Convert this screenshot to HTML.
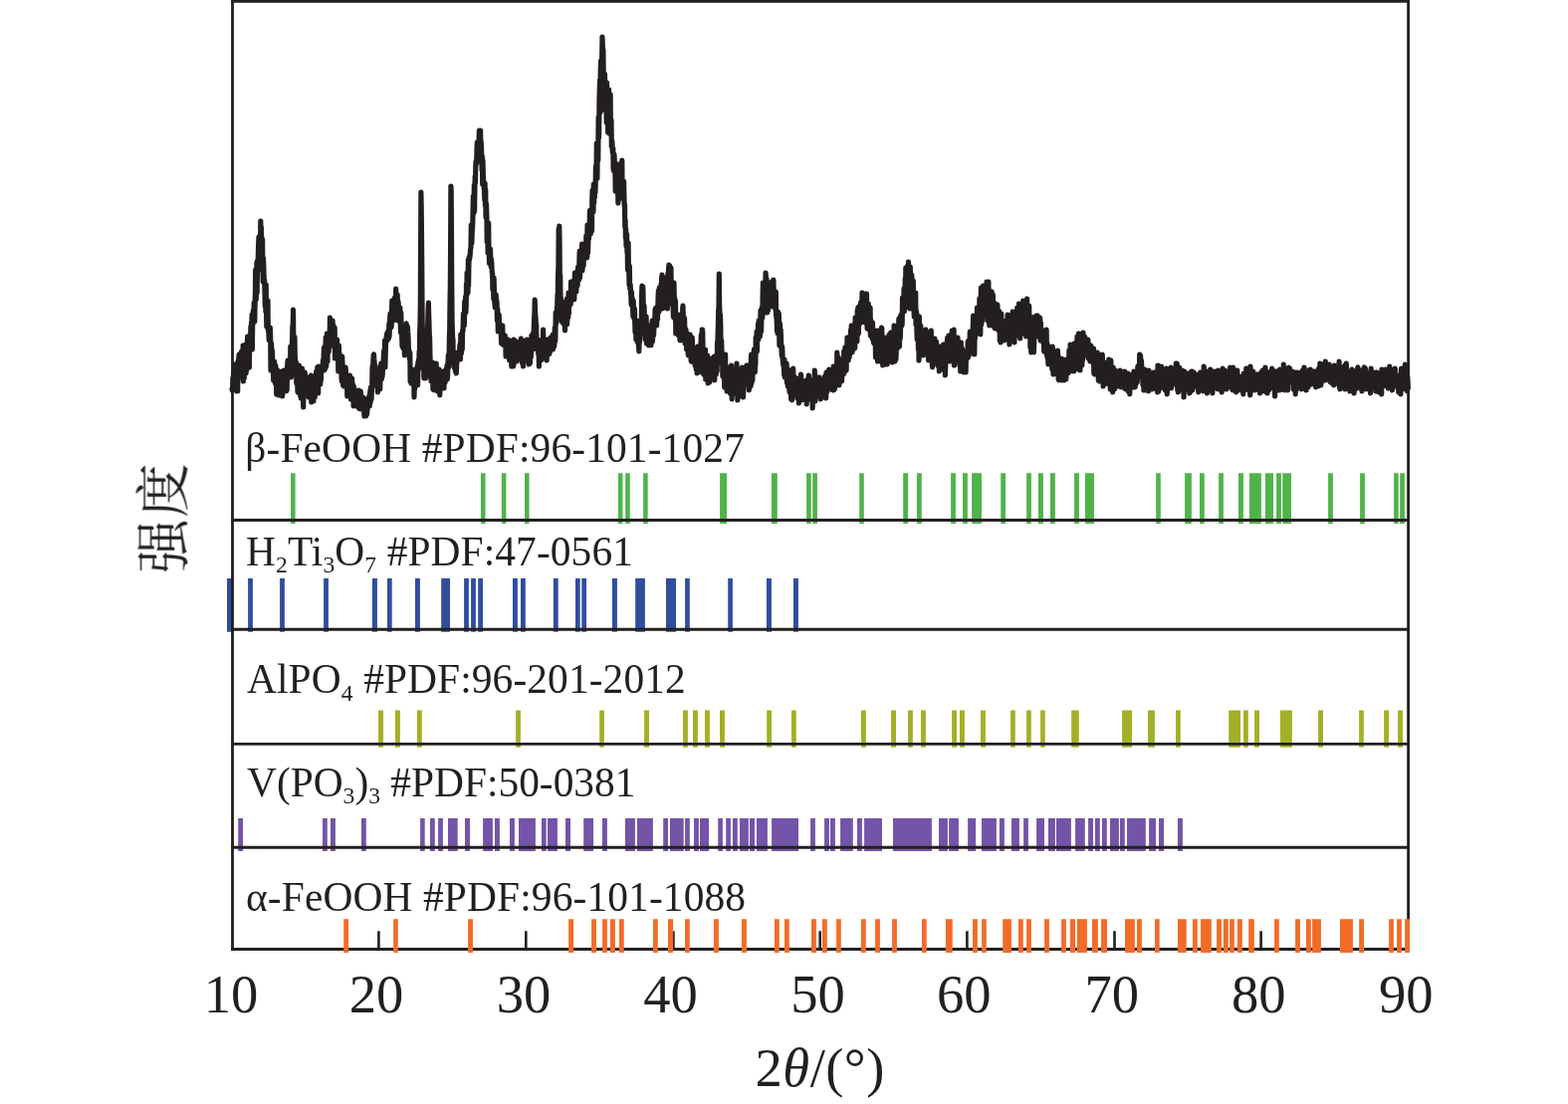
<!DOCTYPE html>
<html><head><meta charset="utf-8"><title>XRD</title>
<style>
html,body{margin:0;padding:0;background:#fff}
svg{display:block}
text{font-family:"Liberation Serif",serif;fill:#231f20}
.lab{font-size:41.4px}
.sb{font-size:23.6px}
.tk{font-size:54.6px}
.ax{font-size:54.6px}
</style></head><body>
<svg width="1575" height="1109" viewBox="0 0 1575 1109">
<rect width="1575" height="1109" fill="#fff"/>
<polyline fill="none" stroke="#231f20" stroke-width="5.2" stroke-linejoin="round" stroke-linecap="round" points="233.0,391 233.3,392 233.6,390 233.9,379 234.2,381 234.5,388 234.8,373 235.1,390 235.4,387 235.7,380 236.0,366 236.3,368 236.6,370 236.9,378 237.2,375 237.5,377 237.8,393 238.1,389 238.4,381 238.7,393 239.0,364 239.3,362 239.6,377 239.9,358 240.2,356 240.5,379 240.8,369 241.1,377 241.4,376 241.7,379 242.0,370 242.3,368 242.6,353 242.9,357 243.2,370 243.5,359 243.8,372 244.1,347 244.4,383 244.7,352 245.0,358 245.3,380 245.6,368 245.9,375 246.2,359 246.5,371 246.8,346 247.1,375 247.4,360 247.7,372 248.0,350 248.3,359 248.6,338 248.9,358 249.2,348 249.5,346 249.8,358 250.1,344 250.4,369 250.7,345 251.0,340 251.3,350 251.6,342 251.9,328 252.2,342 252.5,324 252.8,336 253.1,316 253.4,351 253.7,324 254.0,326 254.3,312 254.6,324 254.9,319 255.2,304 255.5,309 255.8,323 256.1,305 256.4,294 256.7,271 257.0,292 257.3,301 257.6,286 257.9,264 258.2,294 258.5,262 258.8,268 259.1,271 259.4,252 259.7,244 260.0,238 260.3,256 260.6,243 260.9,250 261.2,236 261.5,252 261.8,222 262.1,240 262.4,228 262.7,242 263.0,271 263.3,258 263.6,240 263.9,267 264.2,283 264.5,259 264.8,266 265.1,278 265.4,283 265.7,281 266.0,296 266.3,308 266.6,292 266.9,313 267.2,286 267.5,311 267.8,328 268.1,306 268.4,312 268.7,321 269.0,302 269.3,331 269.6,332 269.9,335 270.2,342 270.5,329 270.8,332 271.1,339 271.4,329 271.7,339 272.0,372 272.3,346 272.6,345 272.9,353 273.2,368 273.5,352 273.8,367 274.1,365 274.4,369 274.7,382 275.0,374 275.3,375 275.6,363 275.9,382 276.2,367 276.5,385 276.8,367 277.1,379 277.4,373 277.7,396 278.0,371 278.3,384 278.6,385 278.9,382 279.2,387 279.5,397 279.8,380 280.1,385 280.4,377 280.7,375 281.0,373 281.3,397 281.6,391 281.9,374 282.2,388 282.5,386 282.8,381 283.1,382 283.4,379 283.7,398 284.0,385 284.3,391 284.6,393 284.9,378 285.2,372 285.5,377 285.8,386 286.1,389 286.4,389 286.7,373 287.0,392 287.3,388 287.6,393 287.9,382 288.2,392 288.5,370 288.8,365 289.1,362 289.4,374 289.7,373 290.0,368 290.3,375 290.6,373 290.9,372 291.2,361 291.5,375 291.8,348 292.1,358 292.4,379 292.7,360 293.0,360 293.3,350 293.6,340 293.9,327 294.2,329 294.5,311 294.8,339 295.1,353 295.4,353 295.7,338 296.0,339 296.3,359 296.6,363 296.9,376 297.2,376 297.5,364 297.8,385 298.1,379 298.4,371 298.7,383 299.0,394 299.3,379 299.6,375 299.9,387 300.2,383 300.5,367 300.8,385 301.1,387 301.4,397 301.7,386 302.0,386 302.3,400 302.6,397 302.9,398 303.2,378 303.5,370 303.8,393 304.1,382 304.4,392 304.7,409 305.0,388 305.3,384 305.6,394 305.9,387 306.2,374 306.5,384 306.8,377 307.1,396 307.4,396 307.7,393 308.0,393 308.3,394 308.6,381 308.9,386 309.2,389 309.5,384 309.8,381 310.1,399 310.4,393 310.7,392 311.0,385 311.3,393 311.6,382 311.9,378 312.2,384 312.5,377 312.8,404 313.1,386 313.4,389 313.7,397 314.0,386 314.3,389 314.6,387 314.9,403 315.2,387 315.5,396 315.8,385 316.1,394 316.4,399 316.7,388 317.0,393 317.3,381 317.6,373 317.9,384 318.2,391 318.5,382 318.8,369 319.1,382 319.4,384 319.7,395 320.0,368 320.3,373 320.6,384 320.9,384 321.2,386 321.5,386 321.8,386 322.1,377 322.4,382 322.7,374 323.0,373 323.3,368 323.6,367 323.9,367 324.2,366 324.5,362 324.8,361 325.1,360 325.4,349 325.7,372 326.0,357 326.3,348 326.6,351 326.9,370 327.2,339 327.5,360 327.8,368 328.1,349 328.4,335 328.7,354 329.0,363 329.3,341 329.6,345 329.9,354 330.2,353 330.5,334 330.8,334 331.1,349 331.4,319 331.7,328 332.0,345 332.3,335 332.6,341 332.9,336 333.2,339 333.5,329 333.8,338 334.1,322 334.4,334 334.7,330 335.0,327 335.3,331 335.6,338 335.9,342 336.2,329 336.5,360 336.8,351 337.1,357 337.4,347 337.7,347 338.0,348 338.3,346 338.6,341 338.9,349 339.2,351 339.5,350 339.8,373 340.1,351 340.4,347 340.7,358 341.0,355 341.3,370 341.6,364 341.9,368 342.2,373 342.5,374 342.8,367 343.1,381 343.4,383 343.7,358 344.0,365 344.3,372 344.6,387 344.9,387 345.2,370 345.5,388 345.8,377 346.1,379 346.4,377 346.7,379 347.0,369 347.3,371 347.6,378 347.9,377 348.2,381 348.5,377 348.8,398 349.1,394 349.4,391 349.7,396 350.0,386 350.3,391 350.6,387 350.9,390 351.2,388 351.5,377 351.8,392 352.1,380 352.4,401 352.7,392 353.0,392 353.3,399 353.6,380 353.9,392 354.2,385 354.5,401 354.8,397 355.1,408 355.4,388 355.7,402 356.0,406 356.3,397 356.6,404 356.9,392 357.2,398 357.5,404 357.8,405 358.1,396 358.4,408 358.7,397 359.0,397 359.3,407 359.6,393 359.9,409 360.2,392 360.5,410 360.8,401 361.1,395 361.4,409 361.7,403 362.0,411 362.3,393 362.6,405 362.9,404 363.2,411 363.5,400 363.8,404 364.1,411 364.4,405 364.7,399 365.0,404 365.3,401 365.6,400 365.9,418 366.2,403 366.5,407 366.8,417 367.1,414 367.4,412 367.7,418 368.0,408 368.3,410 368.6,416 368.9,410 369.2,411 369.5,408 369.8,409 370.1,400 370.4,403 370.7,398 371.0,399 371.3,408 371.6,396 371.9,392 372.2,404 372.5,389 372.8,398 373.1,401 373.4,391 373.7,390 374.0,370 374.3,367 374.6,378 374.9,362 375.2,357 375.5,356 375.8,361 376.1,364 376.4,368 376.7,372 377.0,373 377.3,368 377.6,376 377.9,387 378.2,376 378.5,384 378.8,382 379.1,383 379.4,394 379.7,388 380.0,374 380.3,371 380.6,386 380.9,385 381.2,378 381.5,374 381.8,391 382.1,372 382.4,375 382.7,365 383.0,371 383.3,381 383.6,378 383.9,372 384.2,378 384.5,367 384.8,363 385.1,364 385.4,356 385.7,352 386.0,366 386.3,365 386.6,342 386.9,369 387.2,356 387.5,346 387.8,340 388.1,343 388.4,336 388.7,340 389.0,334 389.3,342 389.6,333 389.9,339 390.2,337 390.5,340 390.8,325 391.1,338 391.4,326 391.7,319 392.0,315 392.3,319 392.6,323 392.9,329 393.2,328 393.5,314 393.8,302 394.1,311 394.4,317 394.7,314 395.0,321 395.3,322 395.6,317 395.9,314 396.2,316 396.5,299 396.8,302 397.1,309 397.4,309 397.7,290 398.0,305 398.3,314 398.6,301 398.9,305 399.2,296 399.5,309 399.8,322 400.1,303 400.4,310 400.7,312 401.0,316 401.3,309 401.6,316 401.9,309 402.2,322 402.5,334 402.8,314 403.1,330 403.4,330 403.7,339 404.0,348 404.3,333 404.6,343 404.9,350 405.2,349 405.5,335 405.8,350 406.1,345 406.4,357 406.7,341 407.0,351 407.3,343 407.6,335 407.9,326 408.2,325 408.5,345 408.8,334 409.1,340 409.4,328 409.7,334 410.0,338 410.3,347 410.6,356 410.9,352 411.2,356 411.5,361 411.8,354 412.1,383 412.4,374 412.7,372 413.0,385 413.3,382 413.6,371 413.9,377 414.2,372 414.5,374 414.8,377 415.1,378 415.4,387 415.7,378 416.0,399 416.3,388 416.6,391 416.9,374 417.2,371 417.5,382 417.8,378 418.1,372 418.4,386 418.7,382 419.0,370 419.3,367 419.6,387 419.9,364 420.2,372 420.5,361 420.8,370 421.1,353 421.4,357 421.7,332 422.0,326 422.3,305 422.6,247 422.9,193 423.2,210 423.5,236 423.8,273 424.1,319 424.4,333 424.7,359 425.0,356 425.3,359 425.6,368 425.9,380 426.2,370 426.5,380 426.8,375 427.1,362 427.4,355 427.7,380 428.0,373 428.3,353 428.6,361 428.9,346 429.2,333 429.5,335 429.8,321 430.1,311 430.4,304 430.7,317 431.0,325 431.3,337 431.6,339 431.9,355 432.2,364 432.5,372 432.8,378 433.1,383 433.4,365 433.7,383 434.0,377 434.3,370 434.6,364 434.9,391 435.2,383 435.5,385 435.8,373 436.1,384 436.4,392 436.7,389 437.0,378 437.3,382 437.6,377 437.9,386 438.2,365 438.5,375 438.8,392 439.1,383 439.4,379 439.7,393 440.0,372 440.3,372 440.6,382 440.9,378 441.2,371 441.5,386 441.8,397 442.1,382 442.4,387 442.7,373 443.0,376 443.3,388 443.6,383 443.9,388 444.2,380 444.5,374 444.8,385 445.1,386 445.4,373 445.7,377 446.0,390 446.3,374 446.6,382 446.9,384 447.2,384 447.5,374 447.8,377 448.1,371 448.4,378 448.7,374 449.0,367 449.3,381 449.6,378 449.9,368 450.2,359 450.5,356 450.8,369 451.1,359 451.4,338 451.7,332 452.0,304 452.3,288 452.6,248 452.9,187 453.2,192 453.5,242 453.8,289 454.1,323 454.4,332 454.7,341 455.0,341 455.3,364 455.6,360 455.9,360 456.2,369 456.5,360 456.8,368 457.1,360 457.4,373 457.7,362 458.0,360 458.3,375 458.6,369 458.9,362 459.2,363 459.5,360 459.8,354 460.1,359 460.4,355 460.7,358 461.0,355 461.3,356 461.6,353 461.9,346 462.2,347 462.5,361 462.8,336 463.1,342 463.4,355 463.7,337 464.0,341 464.3,351 464.6,332 464.9,333 465.2,327 465.5,315 465.8,318 466.1,323 466.4,327 466.7,303 467.0,316 467.3,305 467.6,298 467.9,314 468.2,307 468.5,285 468.8,297 469.1,274 469.4,275 469.7,285 470.0,294 470.3,261 470.6,287 470.9,266 471.2,258 471.5,261 471.8,259 472.1,257 472.4,253 472.7,250 473.0,248 473.3,226 473.6,245 473.9,244 474.2,234 474.5,230 474.8,224 475.1,209 475.4,197 475.7,212 476.0,214 476.3,186 476.6,212 476.9,190 477.2,177 477.5,184 477.8,167 478.1,162 478.4,165 478.7,164 479.0,150 479.3,143 479.6,156 479.9,152 480.2,143 480.5,153 480.8,142 481.1,140 481.4,131 481.7,133 482.0,157 482.3,148 482.6,131 482.9,149 483.2,142 483.5,147 483.8,158 484.1,171 484.4,157 484.7,185 485.0,161 485.3,174 485.6,182 485.9,184 486.2,189 486.5,191 486.8,201 487.1,184 487.4,206 487.7,190 488.0,218 488.3,204 488.6,207 488.9,217 489.2,243 489.5,223 489.8,231 490.1,254 490.4,244 490.7,224 491.0,252 491.3,258 491.6,265 491.9,254 492.2,252 492.5,250 492.8,259 493.1,268 493.4,260 493.7,263 494.0,269 494.3,274 494.6,274 494.9,291 495.2,282 495.5,282 495.8,300 496.1,279 496.4,291 496.7,302 497.0,306 497.3,309 497.6,300 497.9,299 498.2,296 498.5,309 498.8,301 499.1,305 499.4,322 499.7,310 500.0,316 500.3,333 500.6,317 500.9,320 501.2,316 501.5,327 501.8,328 502.1,333 502.4,326 502.7,326 503.0,328 503.3,334 503.6,345 503.9,343 504.2,343 504.5,336 504.8,327 505.1,346 505.4,337 505.7,336 506.0,341 506.3,347 506.6,345 506.9,342 507.2,337 507.5,342 507.8,345 508.1,358 508.4,341 508.7,350 509.0,343 509.3,341 509.6,347 509.9,341 510.2,341 510.5,346 510.8,351 511.1,354 511.4,358 511.7,362 512.0,348 512.3,349 512.6,359 512.9,348 513.2,345 513.5,344 513.8,368 514.1,346 514.4,342 514.7,355 515.0,347 515.3,350 515.6,368 515.9,366 516.2,341 516.5,350 516.8,354 517.1,361 517.4,356 517.7,358 518.0,351 518.3,345 518.6,361 518.9,343 519.2,363 519.5,345 519.8,344 520.1,361 520.4,354 520.7,345 521.0,352 521.3,353 521.6,349 521.9,346 522.2,346 522.5,353 522.8,347 523.1,358 523.4,340 523.7,353 524.0,348 524.3,360 524.6,365 524.9,353 525.2,351 525.5,368 525.8,348 526.1,359 526.4,345 526.7,355 527.0,352 527.3,357 527.6,362 527.9,342 528.2,362 528.5,348 528.8,349 529.1,349 529.4,341 529.7,348 530.0,353 530.3,342 530.6,362 530.9,364 531.2,366 531.5,360 531.8,362 532.1,348 532.4,365 532.7,353 533.0,358 533.3,359 533.6,352 533.9,337 534.2,337 534.5,348 534.8,344 535.1,335 535.4,339 535.7,351 536.0,344 536.3,329 536.6,321 536.9,315 537.2,301 537.5,311 537.8,317 538.1,319 538.4,328 538.7,326 539.0,346 539.3,340 539.6,346 539.9,346 540.2,352 540.5,341 540.8,356 541.1,343 541.4,368 541.7,346 542.0,348 542.3,362 542.6,356 542.9,342 543.2,342 543.5,362 543.8,344 544.1,349 544.4,359 544.7,342 545.0,347 545.3,347 545.6,331 545.9,347 546.2,350 546.5,346 546.8,343 547.1,360 547.4,359 547.7,351 548.0,342 548.3,357 548.6,350 548.9,349 549.2,362 549.5,348 549.8,341 550.1,341 550.4,348 550.7,353 551.0,356 551.3,344 551.6,356 551.9,355 552.2,346 552.5,344 552.8,353 553.1,339 553.4,346 553.7,347 554.0,344 554.3,348 554.6,338 554.9,347 555.2,336 555.5,351 555.8,336 556.1,344 556.4,337 556.7,348 557.0,344 557.3,329 557.6,343 557.9,340 558.2,314 558.5,325 558.8,320 559.1,324 559.4,309 559.7,311 560.0,296 560.3,296 560.6,276 560.9,268 561.2,230 561.5,234 561.8,227 562.1,248 562.4,293 562.7,276 563.0,299 563.3,299 563.6,311 563.9,319 564.2,307 564.5,323 564.8,303 565.1,314 565.4,324 565.7,325 566.0,309 566.3,309 566.6,316 566.9,317 567.2,322 567.5,332 567.8,304 568.1,322 568.4,326 568.7,310 569.0,322 569.3,300 569.6,326 569.9,317 570.2,319 570.5,318 570.8,319 571.1,294 571.4,315 571.7,296 572.0,300 572.3,294 572.6,304 572.9,305 573.2,306 573.5,283 573.8,286 574.1,295 574.4,300 574.7,297 575.0,300 575.3,300 575.6,287 575.9,284 576.2,282 576.5,285 576.8,301 577.1,290 577.4,274 577.7,280 578.0,276 578.3,282 578.6,282 578.9,293 579.2,275 579.5,273 579.8,279 580.1,287 580.4,271 580.7,268 581.0,276 581.3,269 581.6,281 581.9,261 582.2,252 582.5,279 582.8,261 583.1,266 583.4,266 583.7,257 584.0,258 584.3,266 584.6,245 584.9,272 585.2,267 585.5,251 585.8,253 586.1,267 586.4,257 586.7,247 587.0,247 587.3,252 587.6,250 587.9,257 588.2,255 588.5,259 588.8,237 589.1,240 589.4,254 589.7,259 590.0,226 590.3,240 590.6,254 590.9,238 591.2,230 591.5,240 591.8,233 592.1,235 592.4,212 592.7,211 593.0,211 593.3,235 593.6,216 593.9,224 594.2,225 594.5,232 594.8,199 595.1,191 595.4,203 595.7,207 596.0,213 596.3,185 596.6,204 596.9,199 597.2,199 597.5,188 597.8,194 598.1,189 598.4,169 598.7,166 599.0,180 599.3,144 599.6,148 599.9,179 600.2,147 600.5,150 600.8,161 601.1,118 601.4,139 601.7,132 602.0,99 602.3,90 602.6,80 602.9,113 603.2,72 603.5,61 603.8,87 604.1,65 604.4,82 604.7,55 605.0,37 605.3,47 605.6,51 605.9,50 606.2,76 606.5,76 606.8,85 607.1,80 607.4,74 607.7,83 608.0,111 608.3,92 608.6,103 608.9,92 609.2,123 609.5,83 609.8,103 610.1,111 610.4,106 610.7,133 611.0,119 611.3,107 611.6,90 611.9,121 612.2,134 612.5,96 612.8,129 613.1,95 613.4,130 613.7,120 614.0,121 614.3,147 614.6,141 614.9,143 615.2,151 615.5,154 615.8,149 616.1,170 616.4,168 616.7,172 617.0,155 617.3,163 617.6,166 617.9,171 618.2,192 618.5,181 618.8,167 619.1,178 619.4,187 619.7,174 620.0,180 620.3,174 620.6,190 620.9,204 621.2,165 621.5,197 621.8,190 622.1,192 622.4,182 622.7,199 623.0,179 623.3,190 623.6,169 623.9,189 624.2,193 624.5,164 624.8,161 625.1,195 625.4,186 625.7,192 626.0,182 626.3,194 626.6,182 626.9,199 627.2,207 627.5,205 627.8,228 628.1,221 628.4,239 628.7,230 629.0,247 629.3,241 629.6,235 629.9,253 630.2,250 630.5,271 630.8,269 631.1,244 631.4,270 631.7,266 632.0,286 632.3,267 632.6,284 632.9,291 633.2,286 633.5,293 633.8,297 634.1,306 634.4,293 634.7,301 635.0,301 635.3,300 635.6,308 635.9,318 636.2,302 636.5,319 636.8,312 637.1,320 637.4,310 637.7,323 638.0,334 638.3,323 638.6,324 638.9,341 639.2,325 639.5,341 639.8,322 640.1,332 640.4,344 640.7,330 641.0,334 641.3,330 641.6,349 641.9,353 642.2,334 642.5,344 642.8,333 643.1,334 643.4,336 643.7,327 644.0,331 644.3,326 644.6,296 644.9,287 645.2,295 645.5,291 645.8,288 646.1,301 646.4,317 646.7,320 647.0,307 647.3,317 647.6,316 647.9,335 648.2,341 648.5,331 648.8,340 649.1,318 649.4,345 649.7,338 650.0,340 650.3,337 650.6,345 650.9,343 651.2,337 651.5,347 651.8,336 652.1,338 652.4,327 652.7,327 653.0,336 653.3,330 653.6,340 653.9,347 654.2,344 654.5,337 654.8,333 655.1,322 655.4,343 655.7,338 656.0,334 656.3,333 656.6,337 656.9,330 657.2,326 657.5,326 657.8,320 658.1,311 658.4,310 658.7,317 659.0,309 659.3,314 659.6,327 659.9,321 660.2,313 660.5,321 660.8,309 661.1,298 661.4,292 661.7,302 662.0,313 662.3,289 662.6,305 662.9,310 663.2,301 663.5,300 663.8,290 664.1,285 664.4,287 664.7,279 665.0,276 665.3,285 665.6,310 665.9,291 666.2,286 666.5,296 666.8,286 667.1,299 667.4,300 667.7,304 668.0,283 668.3,286 668.6,281 668.9,279 669.2,283 669.5,291 669.8,301 670.1,297 670.4,310 670.7,288 671.0,274 671.3,287 671.6,270 671.9,266 672.2,299 672.5,279 672.8,267 673.1,270 673.4,293 673.7,280 674.0,269 674.3,305 674.6,292 674.9,295 675.2,290 675.5,302 675.8,294 676.1,308 676.4,318 676.7,319 677.0,284 677.3,300 677.6,299 677.9,308 678.2,307 678.5,302 678.8,335 679.1,331 679.4,331 679.7,328 680.0,323 680.3,330 680.6,328 680.9,327 681.2,328 681.5,337 681.8,316 682.1,328 682.4,331 682.7,337 683.0,342 683.3,342 683.6,327 683.9,317 684.2,330 684.5,322 684.8,333 685.1,336 685.4,334 685.7,310 686.0,307 686.3,318 686.6,329 686.9,321 687.2,329 687.5,319 687.8,328 688.1,345 688.4,334 688.7,332 689.0,331 689.3,342 689.6,351 689.9,345 690.2,350 690.5,335 690.8,346 691.1,353 691.4,357 691.7,336 692.0,353 692.3,354 692.6,350 692.9,346 693.2,336 693.5,356 693.8,352 694.1,362 694.4,363 694.7,343 695.0,347 695.3,339 695.6,352 695.9,351 696.2,352 696.5,356 696.8,357 697.1,359 697.4,350 697.7,350 698.0,367 698.3,360 698.6,367 698.9,363 699.2,371 699.5,350 699.8,369 700.1,375 700.4,353 700.7,348 701.0,365 701.3,366 701.6,371 701.9,374 702.2,370 702.5,369 702.8,358 703.1,370 703.4,352 703.7,353 704.0,347 704.3,336 704.6,354 704.9,346 705.2,331 705.5,331 705.8,334 706.1,354 706.4,363 706.7,376 707.0,368 707.3,362 707.6,372 707.9,363 708.2,365 708.5,351 708.8,381 709.1,358 709.4,358 709.7,363 710.0,365 710.3,381 710.6,357 710.9,368 711.2,385 711.5,374 711.8,371 712.1,373 712.4,364 712.7,384 713.0,371 713.3,377 713.6,368 713.9,366 714.2,365 714.5,369 714.8,360 715.1,374 715.4,372 715.7,371 716.0,369 716.3,375 716.6,360 716.9,371 717.2,374 717.5,358 717.8,382 718.1,366 718.4,369 718.7,370 719.0,372 719.3,376 719.6,371 719.9,364 720.2,373 720.5,344 720.8,348 721.1,336 721.4,326 721.7,311 722.0,310 722.3,275 722.6,304 722.9,314 723.2,321 723.5,316 723.8,326 724.1,352 724.4,349 724.7,342 725.0,354 725.3,366 725.6,362 725.9,378 726.2,360 726.5,377 726.8,378 727.1,374 727.4,369 727.7,389 728.0,388 728.3,385 728.6,356 728.9,388 729.2,382 729.5,372 729.8,377 730.1,393 730.4,379 730.7,370 731.0,375 731.3,376 731.6,386 731.9,379 732.2,373 732.5,381 732.8,369 733.1,369 733.4,395 733.7,375 734.0,387 734.3,382 734.6,367 734.9,393 735.2,401 735.5,381 735.8,380 736.1,383 736.4,372 736.7,380 737.0,392 737.3,390 737.6,389 737.9,371 738.2,378 738.5,381 738.8,390 739.1,384 739.4,382 739.7,395 740.0,365 740.3,374 740.6,384 740.9,402 741.2,378 741.5,372 741.8,376 742.1,388 742.4,378 742.7,386 743.0,379 743.3,390 743.6,377 743.9,388 744.2,379 744.5,383 744.8,398 745.1,378 745.4,369 745.7,391 746.0,388 746.3,380 746.6,399 746.9,378 747.2,384 747.5,387 747.8,372 748.1,384 748.4,374 748.7,377 749.0,371 749.3,376 749.6,383 749.9,367 750.2,371 750.5,375 750.8,381 751.1,367 751.4,372 751.7,376 752.0,382 752.3,392 752.6,389 752.9,373 753.2,372 753.5,373 753.8,371 754.1,388 754.4,360 754.7,356 755.0,385 755.3,378 755.6,366 755.9,382 756.2,364 756.5,366 756.8,355 757.1,374 757.4,351 757.7,353 758.0,370 758.3,374 758.6,367 758.9,366 759.2,339 759.5,340 759.8,350 760.1,333 760.4,353 760.7,335 761.0,336 761.3,337 761.6,325 761.9,341 762.2,322 762.5,337 762.8,336 763.1,322 763.4,338 763.7,329 764.0,312 764.3,331 764.6,333 764.9,318 765.2,309 765.5,319 765.8,319 766.1,298 766.4,284 766.7,305 767.0,298 767.3,297 767.6,294 767.9,285 768.2,304 768.5,288 768.8,286 769.1,274 769.4,280 769.7,314 770.0,280 770.3,298 770.6,314 770.9,290 771.2,302 771.5,312 771.8,284 772.1,307 772.4,306 772.7,289 773.0,291 773.3,301 773.6,305 773.9,296 774.2,292 774.5,289 774.8,286 775.1,283 775.4,298 775.7,308 776.0,298 776.3,301 776.6,295 776.9,281 777.2,296 777.5,304 777.8,293 778.1,298 778.4,305 778.7,297 779.0,311 779.3,293 779.6,316 779.9,319 780.2,321 780.5,333 780.8,323 781.1,335 781.4,313 781.7,318 782.0,315 782.3,315 782.6,330 782.9,347 783.2,336 783.5,325 783.8,343 784.1,331 784.4,337 784.7,346 785.0,351 785.3,358 785.6,348 785.9,353 786.2,361 786.5,364 786.8,367 787.1,364 787.4,369 787.7,377 788.0,361 788.3,379 788.6,373 788.9,368 789.2,373 789.5,370 789.8,379 790.1,365 790.4,384 790.7,385 791.0,370 791.3,388 791.6,380 791.9,373 792.2,389 792.5,372 792.8,390 793.1,394 793.4,387 793.7,378 794.0,393 794.3,392 794.6,401 794.9,377 795.2,399 795.5,402 795.8,385 796.1,391 796.4,385 796.7,370 797.0,385 797.3,384 797.6,379 797.9,394 798.2,391 798.5,392 798.8,379 799.1,386 799.4,397 799.7,384 800.0,389 800.3,384 800.6,387 800.9,400 801.2,387 801.5,397 801.8,398 802.1,382 802.4,405 802.7,394 803.0,380 803.3,398 803.6,398 803.9,391 804.2,397 804.5,376 804.8,388 805.1,390 805.4,402 805.7,392 806.0,392 806.3,388 806.6,394 806.9,388 807.2,399 807.5,390 807.8,386 808.1,392 808.4,385 808.7,388 809.0,391 809.3,402 809.6,382 809.9,396 810.2,406 810.5,382 810.8,395 811.1,392 811.4,395 811.7,386 812.0,396 812.3,377 812.6,379 812.9,401 813.2,391 813.5,399 813.8,397 814.1,384 814.4,395 814.7,392 815.0,382 815.3,391 815.6,397 815.9,391 816.2,410 816.5,385 816.8,389 817.1,399 817.4,385 817.7,386 818.0,390 818.3,372 818.6,395 818.9,403 819.2,382 819.5,389 819.8,396 820.1,394 820.4,397 820.7,388 821.0,392 821.3,397 821.6,379 821.9,388 822.2,382 822.5,380 822.8,381 823.1,379 823.4,391 823.7,396 824.0,388 824.3,401 824.6,392 824.9,397 825.2,395 825.5,387 825.8,395 826.1,381 826.4,385 826.7,393 827.0,399 827.3,390 827.6,397 827.9,393 828.2,396 828.5,378 828.8,381 829.1,385 829.4,384 829.7,400 830.0,374 830.3,383 830.6,394 830.9,383 831.2,393 831.5,382 831.8,378 832.1,386 832.4,379 832.7,371 833.0,378 833.3,383 833.6,389 833.9,389 834.2,378 834.5,381 834.8,388 835.1,387 835.4,380 835.7,372 836.0,385 836.3,392 836.6,381 836.9,388 837.2,368 837.5,392 837.8,376 838.1,389 838.4,391 838.7,383 839.0,388 839.3,383 839.6,384 839.9,378 840.2,385 840.5,381 840.8,354 841.1,371 841.4,383 841.7,381 842.0,385 842.3,359 842.6,367 842.9,387 843.2,362 843.5,372 843.8,372 844.1,372 844.4,374 844.7,376 845.0,371 845.3,375 845.6,383 845.9,365 846.2,372 846.5,363 846.8,363 847.1,363 847.4,376 847.7,353 848.0,364 848.3,374 848.6,355 848.9,349 849.2,369 849.5,368 849.8,363 850.1,372 850.4,351 850.7,354 851.0,339 851.3,358 851.6,344 851.9,344 852.2,362 852.5,357 852.8,359 853.1,359 853.4,356 853.7,341 854.0,354 854.3,339 854.6,331 854.9,350 855.2,327 855.5,336 855.8,347 856.1,354 856.4,337 856.7,332 857.0,336 857.3,339 857.6,340 857.9,349 858.2,326 858.5,350 858.8,348 859.1,319 859.4,335 859.7,340 860.0,342 860.3,323 860.6,330 860.9,343 861.2,312 861.5,323 861.8,309 862.1,325 862.4,335 862.7,308 863.0,325 863.3,318 863.6,307 863.9,325 864.2,318 864.5,304 864.8,316 865.1,319 865.4,304 865.7,309 866.0,294 866.3,297 866.6,318 866.9,320 867.2,320 867.5,310 867.8,311 868.1,316 868.4,324 868.7,312 869.0,317 869.3,295 869.6,314 869.9,305 870.2,302 870.5,295 870.8,315 871.1,330 871.4,322 871.7,328 872.0,317 872.3,305 872.6,323 872.9,331 873.2,316 873.5,325 873.8,320 874.1,309 874.4,337 874.7,321 875.0,332 875.3,326 875.6,331 875.9,326 876.2,340 876.5,324 876.8,334 877.1,331 877.4,344 877.7,340 878.0,345 878.3,344 878.6,332 878.9,346 879.2,334 879.5,359 879.8,354 880.1,340 880.4,358 880.7,336 881.0,352 881.3,332 881.6,363 881.9,353 882.2,339 882.5,336 882.8,351 883.1,354 883.4,346 883.7,355 884.0,347 884.3,363 884.6,355 884.9,344 885.2,346 885.5,329 885.8,330 886.1,355 886.4,349 886.7,367 887.0,344 887.3,363 887.6,344 887.9,364 888.2,360 888.5,339 888.8,360 889.1,361 889.4,361 889.7,366 890.0,353 890.3,350 890.6,339 890.9,364 891.2,366 891.5,339 891.8,362 892.1,350 892.4,342 892.7,347 893.0,354 893.3,336 893.6,340 893.9,337 894.2,347 894.5,353 894.8,334 895.1,344 895.4,352 895.7,337 896.0,348 896.3,364 896.6,364 896.9,360 897.2,340 897.5,357 897.8,355 898.1,327 898.4,347 898.7,361 899.0,363 899.3,338 899.6,336 899.9,361 900.2,356 900.5,335 900.8,334 901.1,338 901.4,350 901.7,336 902.0,344 902.3,332 902.6,327 902.9,320 903.2,322 903.5,348 903.8,324 904.1,335 904.4,340 904.7,317 905.0,326 905.3,323 905.6,315 905.9,327 906.2,325 906.5,299 906.8,314 907.1,311 907.4,310 907.7,303 908.0,290 908.3,313 908.6,298 908.9,305 909.2,280 909.5,309 909.8,269 910.1,296 910.4,270 910.7,269 911.0,296 911.3,271 911.6,267 911.9,273 912.2,285 912.5,263 912.8,281 913.1,288 913.4,290 913.7,287 914.0,310 914.3,268 914.6,284 914.9,288 915.2,290 915.5,296 915.8,276 916.1,283 916.4,302 916.7,298 917.0,291 917.3,282 917.6,304 917.9,295 918.2,318 918.5,301 918.8,312 919.1,298 919.4,318 919.7,294 920.0,326 920.3,326 920.6,313 920.9,333 921.2,341 921.5,330 921.8,338 922.1,334 922.4,351 922.7,322 923.0,362 923.3,318 923.6,342 923.9,326 924.2,337 924.5,337 924.8,327 925.1,338 925.4,331 925.7,347 926.0,342 926.3,338 926.6,343 926.9,335 927.2,357 927.5,345 927.8,350 928.1,351 928.4,351 928.7,337 929.0,337 929.3,345 929.6,333 929.9,331 930.2,356 930.5,351 930.8,347 931.1,339 931.4,353 931.7,350 932.0,334 932.3,350 932.6,362 932.9,354 933.2,355 933.5,346 933.8,349 934.1,350 934.4,343 934.7,353 935.0,335 935.3,332 935.6,361 935.9,350 936.2,362 936.5,369 936.8,364 937.1,358 937.4,363 937.7,359 938.0,364 938.3,361 938.6,352 938.9,340 939.2,354 939.5,351 939.8,348 940.1,362 940.4,343 940.7,346 941.0,359 941.3,349 941.6,349 941.9,367 942.2,367 942.5,351 942.8,350 943.1,349 943.4,373 943.7,366 944.0,348 944.3,359 944.6,351 944.9,360 945.2,353 945.5,352 945.8,350 946.1,350 946.4,368 946.7,361 947.0,352 947.3,360 947.6,346 947.9,346 948.2,359 948.5,372 948.8,351 949.1,355 949.4,377 949.7,369 950.0,348 950.3,361 950.6,347 950.9,360 951.2,345 951.5,341 951.8,339 952.1,355 952.4,363 952.7,352 953.0,337 953.3,342 953.6,352 953.9,363 954.2,346 954.5,346 954.8,343 955.1,355 955.4,356 955.7,350 956.0,337 956.3,332 956.6,348 956.9,344 957.2,350 957.5,333 957.8,340 958.1,331 958.4,367 958.7,367 959.0,351 959.3,360 959.6,346 959.9,357 960.2,357 960.5,350 960.8,346 961.1,355 961.4,346 961.7,358 962.0,339 962.3,362 962.6,352 962.9,355 963.2,361 963.5,353 963.8,357 964.1,367 964.4,351 964.7,373 965.0,371 965.3,344 965.6,364 965.9,367 966.2,361 966.5,350 966.8,364 967.1,365 967.4,372 967.7,366 968.0,355 968.3,374 968.6,364 968.9,354 969.2,371 969.5,356 969.8,365 970.1,374 970.4,357 970.7,361 971.0,353 971.3,353 971.6,360 971.9,357 972.2,343 972.5,359 972.8,358 973.1,342 973.4,356 973.7,350 974.0,344 974.3,333 974.6,349 974.9,336 975.2,348 975.5,339 975.8,342 976.1,333 976.4,355 976.7,337 977.0,346 977.3,327 977.6,317 977.9,347 978.2,347 978.5,345 978.8,356 979.1,337 979.4,340 979.7,333 980.0,323 980.3,324 980.6,328 980.9,323 981.2,326 981.5,309 981.8,319 982.1,313 982.4,328 982.7,335 983.0,320 983.3,315 983.6,319 983.9,300 984.2,307 984.5,329 984.8,336 985.1,303 985.4,289 985.7,326 986.0,307 986.3,307 986.6,323 986.9,312 987.2,310 987.5,287 987.8,306 988.1,307 988.4,290 988.7,310 989.0,290 989.3,296 989.6,313 989.9,294 990.2,309 990.5,297 990.8,310 991.1,283 991.4,293 991.7,308 992.0,322 992.3,306 992.6,314 992.9,283 993.2,313 993.5,323 993.8,327 994.1,300 994.4,309 994.7,303 995.0,316 995.3,311 995.6,311 995.9,294 996.2,293 996.5,305 996.8,327 997.1,300 997.4,296 997.7,304 998.0,316 998.3,315 998.6,318 998.9,323 999.2,330 999.5,320 999.8,305 1000.1,306 1000.4,330 1000.7,313 1001.0,321 1001.3,308 1001.6,326 1001.9,306 1002.2,314 1002.5,311 1002.8,330 1003.1,332 1003.4,322 1003.7,319 1004.0,313 1004.3,342 1004.6,334 1004.9,330 1005.2,344 1005.5,328 1005.8,315 1006.1,337 1006.4,325 1006.7,336 1007.0,332 1007.3,333 1007.6,340 1007.9,332 1008.2,329 1008.5,338 1008.8,342 1009.1,337 1009.4,327 1009.7,336 1010.0,332 1010.3,325 1010.6,322 1010.9,336 1011.2,333 1011.5,324 1011.8,325 1012.1,316 1012.4,324 1012.7,318 1013.0,332 1013.3,317 1013.6,327 1013.9,346 1014.2,331 1014.5,335 1014.8,339 1015.1,335 1015.4,317 1015.7,328 1016.0,337 1016.3,323 1016.6,341 1016.9,318 1017.2,313 1017.5,338 1017.8,325 1018.1,322 1018.4,335 1018.7,320 1019.0,344 1019.3,329 1019.6,314 1019.9,323 1020.2,329 1020.5,324 1020.8,337 1021.1,316 1021.4,320 1021.7,309 1022.0,330 1022.3,331 1022.6,322 1022.9,332 1023.2,331 1023.5,305 1023.8,315 1024.1,338 1024.4,312 1024.7,340 1025.0,322 1025.3,316 1025.6,310 1025.9,323 1026.2,318 1026.5,319 1026.8,329 1027.1,321 1027.4,319 1027.7,302 1028.0,320 1028.3,335 1028.6,310 1028.9,328 1029.2,319 1029.5,322 1029.8,311 1030.1,318 1030.4,320 1030.7,338 1031.0,310 1031.3,304 1031.6,300 1031.9,335 1032.2,307 1032.5,312 1032.8,330 1033.1,331 1033.4,330 1033.7,307 1034.0,324 1034.3,317 1034.6,322 1034.9,349 1035.2,334 1035.5,335 1035.8,354 1036.1,354 1036.4,350 1036.7,331 1037.0,335 1037.3,353 1037.6,341 1037.9,353 1038.2,350 1038.5,354 1038.8,336 1039.1,339 1039.4,318 1039.7,333 1040.0,328 1040.3,322 1040.6,325 1040.9,324 1041.2,317 1041.5,338 1041.8,320 1042.1,317 1042.4,332 1042.7,336 1043.0,333 1043.3,338 1043.6,334 1043.9,322 1044.2,338 1044.5,319 1044.8,321 1045.1,342 1045.4,324 1045.7,338 1046.0,334 1046.3,335 1046.6,339 1046.9,339 1047.2,341 1047.5,332 1047.8,344 1048.1,344 1048.4,342 1048.7,353 1049.0,351 1049.3,352 1049.6,347 1049.9,354 1050.2,346 1050.5,342 1050.8,354 1051.1,331 1051.4,353 1051.7,358 1052.0,345 1052.3,360 1052.6,354 1052.9,366 1053.2,348 1053.5,354 1053.8,360 1054.1,349 1054.4,365 1054.7,361 1055.0,352 1055.3,360 1055.6,362 1055.9,351 1056.2,350 1056.5,363 1056.8,371 1057.1,348 1057.4,350 1057.7,353 1058.0,376 1058.3,353 1058.6,367 1058.9,359 1059.2,357 1059.5,361 1059.8,369 1060.1,356 1060.4,369 1060.7,371 1061.0,367 1061.3,360 1061.6,365 1061.9,376 1062.2,362 1062.5,352 1062.8,367 1063.1,381 1063.4,371 1063.7,382 1064.0,375 1064.3,372 1064.6,362 1064.9,370 1065.2,371 1065.5,379 1065.8,360 1066.1,365 1066.4,382 1066.7,362 1067.0,372 1067.3,381 1067.6,375 1067.9,361 1068.2,369 1068.5,376 1068.8,362 1069.1,382 1069.4,370 1069.7,362 1070.0,363 1070.3,362 1070.6,376 1070.9,381 1071.2,361 1071.5,362 1071.8,368 1072.1,369 1072.4,366 1072.7,370 1073.0,375 1073.3,374 1073.6,369 1073.9,352 1074.2,359 1074.5,363 1074.8,373 1075.1,346 1075.4,362 1075.7,363 1076.0,361 1076.3,356 1076.6,352 1076.9,348 1077.2,348 1077.5,353 1077.8,351 1078.1,365 1078.4,355 1078.7,373 1079.0,345 1079.3,365 1079.6,346 1079.9,358 1080.2,355 1080.5,350 1080.8,350 1081.1,352 1081.4,344 1081.7,358 1082.0,338 1082.3,347 1082.6,353 1082.9,361 1083.2,371 1083.5,335 1083.8,339 1084.1,343 1084.4,347 1084.7,346 1085.0,372 1085.3,356 1085.6,359 1085.9,358 1086.2,350 1086.5,356 1086.8,367 1087.1,361 1087.4,362 1087.7,361 1088.0,334 1088.3,345 1088.6,358 1088.9,347 1089.2,349 1089.5,338 1089.8,342 1090.1,347 1090.4,343 1090.7,349 1091.0,345 1091.3,354 1091.6,343 1091.9,351 1092.2,353 1092.5,356 1092.8,341 1093.1,345 1093.4,360 1093.7,346 1094.0,347 1094.3,357 1094.6,357 1094.9,363 1095.2,351 1095.5,362 1095.8,347 1096.1,358 1096.4,354 1096.7,359 1097.0,355 1097.3,353 1097.6,354 1097.9,361 1098.2,365 1098.5,350 1098.8,375 1099.1,371 1099.4,355 1099.7,376 1100.0,358 1100.3,372 1100.6,356 1100.9,367 1101.2,364 1101.5,375 1101.8,375 1102.1,368 1102.4,354 1102.7,373 1103.0,363 1103.3,382 1103.6,373 1103.9,371 1104.2,358 1104.5,383 1104.8,360 1105.1,372 1105.4,375 1105.7,378 1106.0,377 1106.3,364 1106.6,362 1106.9,375 1107.2,356 1107.5,362 1107.8,370 1108.1,388 1108.4,365 1108.7,378 1109.0,381 1109.3,377 1109.6,386 1109.9,380 1110.2,369 1110.5,378 1110.8,379 1111.1,371 1111.4,373 1111.7,370 1112.0,364 1112.3,370 1112.6,379 1112.9,376 1113.2,364 1113.5,383 1113.8,361 1114.1,386 1114.4,380 1114.7,374 1115.0,378 1115.3,391 1115.6,372 1115.9,362 1116.2,383 1116.5,374 1116.8,376 1117.1,377 1117.4,369 1117.7,394 1118.0,384 1118.3,369 1118.6,382 1118.9,378 1119.2,385 1119.5,391 1119.8,386 1120.1,372 1120.4,389 1120.7,377 1121.0,376 1121.3,380 1121.6,373 1121.9,386 1122.2,386 1122.5,373 1122.8,388 1123.1,380 1123.4,387 1123.7,374 1124.0,388 1124.3,387 1124.6,373 1124.9,386 1125.2,372 1125.5,388 1125.8,377 1126.1,389 1126.4,377 1126.7,387 1127.0,389 1127.3,383 1127.6,374 1127.9,388 1128.2,379 1128.5,380 1128.8,383 1129.1,388 1129.4,387 1129.7,373 1130.0,390 1130.3,386 1130.6,391 1130.9,389 1131.2,376 1131.5,376 1131.8,384 1132.1,386 1132.4,383 1132.7,390 1133.0,375 1133.3,393 1133.6,391 1133.9,390 1134.2,387 1134.5,386 1134.8,396 1135.1,382 1135.4,383 1135.7,390 1136.0,385 1136.3,381 1136.6,379 1136.9,385 1137.2,378 1137.5,376 1137.8,376 1138.1,389 1138.4,385 1138.7,385 1139.0,373 1139.3,378 1139.6,389 1139.9,378 1140.2,389 1140.5,376 1140.8,378 1141.1,386 1141.4,377 1141.7,379 1142.0,376 1142.3,384 1142.6,374 1142.9,368 1143.2,374 1143.5,370 1143.8,376 1144.1,374 1144.4,378 1144.7,356 1145.0,360 1145.3,373 1145.6,357 1145.9,375 1146.2,368 1146.5,362 1146.8,370 1147.1,377 1147.4,380 1147.7,379 1148.0,387 1148.3,382 1148.6,378 1148.9,392 1149.2,377 1149.5,371 1149.8,371 1150.1,381 1150.4,389 1150.7,382 1151.0,375 1151.3,392 1151.6,384 1151.9,375 1152.2,382 1152.5,377 1152.8,382 1153.1,391 1153.4,387 1153.7,393 1154.0,372 1154.3,389 1154.6,388 1154.9,377 1155.2,378 1155.5,382 1155.8,380 1156.1,375 1156.4,381 1156.7,375 1157.0,386 1157.3,378 1157.6,391 1157.9,378 1158.2,383 1158.5,388 1158.8,374 1159.1,385 1159.4,384 1159.7,385 1160.0,382 1160.3,390 1160.6,382 1160.9,382 1161.2,380 1161.5,385 1161.8,377 1162.1,373 1162.4,377 1162.7,394 1163.0,367 1163.3,370 1163.6,373 1163.9,393 1164.2,381 1164.5,384 1164.8,382 1165.1,383 1165.4,390 1165.7,390 1166.0,382 1166.3,383 1166.6,368 1166.9,382 1167.2,375 1167.5,376 1167.8,386 1168.1,377 1168.4,374 1168.7,383 1169.0,385 1169.3,373 1169.6,379 1169.9,389 1170.2,378 1170.5,392 1170.8,388 1171.1,382 1171.4,392 1171.7,370 1172.0,380 1172.3,396 1172.6,386 1172.9,373 1173.2,378 1173.5,385 1173.8,384 1174.1,375 1174.4,372 1174.7,379 1175.0,377 1175.3,371 1175.6,388 1175.9,383 1176.2,369 1176.5,390 1176.8,377 1177.1,386 1177.4,377 1177.7,378 1178.0,381 1178.3,383 1178.6,376 1178.9,372 1179.2,386 1179.5,372 1179.8,371 1180.1,377 1180.4,375 1180.7,373 1181.0,378 1181.3,365 1181.6,368 1181.9,386 1182.2,365 1182.5,374 1182.8,392 1183.1,375 1183.4,394 1183.7,377 1184.0,392 1184.3,375 1184.6,369 1184.9,389 1185.2,392 1185.5,380 1185.8,380 1186.1,376 1186.4,372 1186.7,379 1187.0,382 1187.3,386 1187.6,372 1187.9,376 1188.2,378 1188.5,379 1188.8,384 1189.1,399 1189.4,376 1189.7,373 1190.0,381 1190.3,388 1190.6,390 1190.9,382 1191.2,377 1191.5,380 1191.8,381 1192.1,388 1192.4,388 1192.7,386 1193.0,392 1193.3,387 1193.6,390 1193.9,375 1194.2,378 1194.5,375 1194.8,395 1195.1,392 1195.4,387 1195.7,394 1196.0,385 1196.3,385 1196.6,389 1196.9,373 1197.2,382 1197.5,373 1197.8,392 1198.1,388 1198.4,378 1198.7,383 1199.0,389 1199.3,374 1199.6,378 1199.9,382 1200.2,381 1200.5,382 1200.8,385 1201.1,376 1201.4,387 1201.7,382 1202.0,378 1202.3,380 1202.6,384 1202.9,381 1203.2,379 1203.5,384 1203.8,394 1204.1,385 1204.4,387 1204.7,387 1205.0,381 1205.3,388 1205.6,374 1205.9,386 1206.2,376 1206.5,379 1206.8,383 1207.1,387 1207.4,391 1207.7,374 1208.0,391 1208.3,387 1208.6,393 1208.9,387 1209.2,368 1209.5,373 1209.8,388 1210.1,386 1210.4,387 1210.7,376 1211.0,375 1211.3,379 1211.6,381 1211.9,386 1212.2,380 1212.5,395 1212.8,392 1213.1,373 1213.4,386 1213.7,387 1214.0,377 1214.3,388 1214.6,389 1214.9,380 1215.2,392 1215.5,374 1215.8,371 1216.1,383 1216.4,378 1216.7,384 1217.0,382 1217.3,386 1217.6,385 1217.9,395 1218.2,379 1218.5,382 1218.8,386 1219.1,380 1219.4,386 1219.7,385 1220.0,373 1220.3,388 1220.6,388 1220.9,375 1221.2,377 1221.5,383 1221.8,376 1222.1,389 1222.4,379 1222.7,384 1223.0,391 1223.3,391 1223.6,372 1223.9,377 1224.2,384 1224.5,386 1224.8,380 1225.1,379 1225.4,391 1225.7,382 1226.0,390 1226.3,381 1226.6,383 1226.9,372 1227.2,394 1227.5,379 1227.8,378 1228.1,370 1228.4,378 1228.7,379 1229.0,381 1229.3,385 1229.6,377 1229.9,375 1230.2,385 1230.5,372 1230.8,386 1231.1,377 1231.4,382 1231.7,378 1232.0,391 1232.3,388 1232.6,374 1232.9,386 1233.2,389 1233.5,382 1233.8,386 1234.1,384 1234.4,380 1234.7,386 1235.0,387 1235.3,379 1235.6,369 1235.9,378 1236.2,384 1236.5,376 1236.8,389 1237.1,390 1237.4,386 1237.7,382 1238.0,386 1238.3,392 1238.6,369 1238.9,388 1239.2,375 1239.5,388 1239.8,376 1240.1,385 1240.4,376 1240.7,390 1241.0,387 1241.3,391 1241.6,394 1241.9,379 1242.2,389 1242.5,376 1242.8,372 1243.1,390 1243.4,386 1243.7,390 1244.0,380 1244.3,387 1244.6,392 1244.9,386 1245.2,378 1245.5,390 1245.8,379 1246.1,387 1246.4,385 1246.7,389 1247.0,391 1247.3,386 1247.6,392 1247.9,384 1248.2,381 1248.5,384 1248.8,396 1249.1,381 1249.4,375 1249.7,379 1250.0,375 1250.3,389 1250.6,392 1250.9,381 1251.2,380 1251.5,382 1251.8,370 1252.1,373 1252.4,385 1252.7,381 1253.0,387 1253.3,375 1253.6,390 1253.9,378 1254.2,383 1254.5,387 1254.8,371 1255.1,382 1255.4,394 1255.7,397 1256.0,368 1256.3,383 1256.6,387 1256.9,393 1257.2,379 1257.5,379 1257.8,389 1258.1,379 1258.4,375 1258.7,373 1259.0,390 1259.3,385 1259.6,391 1259.9,387 1260.2,376 1260.5,388 1260.8,392 1261.1,382 1261.4,385 1261.7,383 1262.0,376 1262.3,391 1262.6,376 1262.9,388 1263.2,389 1263.5,386 1263.8,388 1264.1,386 1264.4,388 1264.7,389 1265.0,376 1265.3,377 1265.6,395 1265.9,391 1266.2,385 1266.5,378 1266.8,374 1267.1,393 1267.4,386 1267.7,375 1268.0,387 1268.3,372 1268.6,382 1268.9,393 1269.2,379 1269.5,389 1269.8,389 1270.1,373 1270.4,386 1270.7,375 1271.0,369 1271.3,384 1271.6,382 1271.9,394 1272.2,388 1272.5,373 1272.8,376 1273.1,395 1273.4,380 1273.7,389 1274.0,376 1274.3,390 1274.6,392 1274.9,385 1275.2,383 1275.5,387 1275.8,379 1276.1,375 1276.4,386 1276.7,386 1277.0,375 1277.3,380 1277.6,370 1277.9,382 1278.2,390 1278.5,373 1278.8,380 1279.1,379 1279.4,375 1279.7,382 1280.0,378 1280.3,376 1280.6,398 1280.9,373 1281.2,373 1281.5,385 1281.8,380 1282.1,373 1282.4,384 1282.7,381 1283.0,380 1283.3,390 1283.6,386 1283.9,392 1284.2,380 1284.5,392 1284.8,388 1285.1,372 1285.4,392 1285.7,371 1286.0,387 1286.3,373 1286.6,376 1286.9,374 1287.2,391 1287.5,373 1287.8,388 1288.1,375 1288.4,377 1288.7,377 1289.0,391 1289.3,366 1289.6,389 1289.9,383 1290.2,392 1290.5,389 1290.8,379 1291.1,381 1291.4,371 1291.7,383 1292.0,376 1292.3,387 1292.6,385 1292.9,379 1293.2,372 1293.5,392 1293.8,374 1294.1,380 1294.4,369 1294.7,377 1295.0,382 1295.3,381 1295.6,370 1295.9,377 1296.2,380 1296.5,384 1296.8,381 1297.1,384 1297.4,375 1297.7,383 1298.0,373 1298.3,378 1298.6,378 1298.9,377 1299.2,391 1299.5,381 1299.8,377 1300.1,374 1300.4,388 1300.7,374 1301.0,390 1301.3,396 1301.6,382 1301.9,376 1302.2,391 1302.5,383 1302.8,376 1303.1,374 1303.4,386 1303.7,390 1304.0,387 1304.3,381 1304.6,380 1304.9,389 1305.2,387 1305.5,389 1305.8,390 1306.1,389 1306.4,381 1306.7,377 1307.0,374 1307.3,377 1307.6,391 1307.9,390 1308.2,385 1308.5,372 1308.8,374 1309.1,381 1309.4,378 1309.7,375 1310.0,369 1310.3,385 1310.6,382 1310.9,373 1311.2,378 1311.5,378 1311.8,379 1312.1,392 1312.4,377 1312.7,387 1313.0,375 1313.3,380 1313.6,383 1313.9,389 1314.2,384 1314.5,373 1314.8,372 1315.1,381 1315.4,387 1315.7,378 1316.0,383 1316.3,371 1316.6,385 1316.9,375 1317.2,373 1317.5,384 1317.8,383 1318.1,382 1318.4,377 1318.7,376 1319.0,386 1319.3,378 1319.6,376 1319.9,373 1320.2,384 1320.5,382 1320.8,376 1321.1,373 1321.4,383 1321.7,389 1322.0,380 1322.3,388 1322.6,384 1322.9,381 1323.2,376 1323.5,377 1323.8,374 1324.1,385 1324.4,388 1324.7,370 1325.0,377 1325.3,383 1325.6,386 1325.9,365 1326.2,380 1326.5,370 1326.8,387 1327.1,374 1327.4,366 1327.7,384 1328.0,377 1328.3,378 1328.6,369 1328.9,366 1329.2,372 1329.5,375 1329.8,377 1330.1,370 1330.4,381 1330.7,381 1331.0,380 1331.3,363 1331.6,382 1331.9,370 1332.2,368 1332.5,376 1332.8,380 1333.1,368 1333.4,378 1333.7,377 1334.0,377 1334.3,372 1334.6,373 1334.9,372 1335.2,366 1335.5,376 1335.8,374 1336.1,380 1336.4,384 1336.7,378 1337.0,382 1337.3,374 1337.6,384 1337.9,370 1338.2,385 1338.5,373 1338.8,374 1339.1,384 1339.4,377 1339.7,387 1340.0,384 1340.3,367 1340.6,374 1340.9,384 1341.2,372 1341.5,379 1341.8,385 1342.1,375 1342.4,370 1342.7,375 1343.0,378 1343.3,370 1343.6,376 1343.9,383 1344.2,375 1344.5,386 1344.8,373 1345.1,363 1345.4,389 1345.7,373 1346.0,391 1346.3,375 1346.6,380 1346.9,382 1347.2,371 1347.5,370 1347.8,376 1348.1,370 1348.4,376 1348.7,369 1349.0,375 1349.3,377 1349.6,373 1349.9,378 1350.2,374 1350.5,381 1350.8,367 1351.1,391 1351.4,376 1351.7,388 1352.0,370 1352.3,365 1352.6,372 1352.9,385 1353.2,377 1353.5,386 1353.8,386 1354.1,373 1354.4,382 1354.7,377 1355.0,377 1355.3,383 1355.6,373 1355.9,393 1356.2,380 1356.5,375 1356.8,384 1357.1,376 1357.4,384 1357.7,376 1358.0,371 1358.3,372 1358.6,377 1358.9,388 1359.2,374 1359.5,378 1359.8,379 1360.1,395 1360.4,374 1360.7,386 1361.0,373 1361.3,380 1361.6,377 1361.9,375 1362.2,376 1362.5,384 1362.8,375 1363.1,389 1363.4,390 1363.7,370 1364.0,369 1364.3,388 1364.6,383 1364.9,373 1365.2,386 1365.5,385 1365.8,388 1366.1,389 1366.4,386 1366.7,382 1367.0,389 1367.3,379 1367.6,381 1367.9,393 1368.2,372 1368.5,383 1368.8,382 1369.1,389 1369.4,386 1369.7,391 1370.0,370 1370.3,369 1370.6,378 1370.9,382 1371.2,387 1371.5,370 1371.8,378 1372.1,383 1372.4,377 1372.7,391 1373.0,381 1373.3,386 1373.6,385 1373.9,384 1374.2,375 1374.5,380 1374.8,379 1375.1,378 1375.4,383 1375.7,381 1376.0,383 1376.3,374 1376.6,395 1376.9,387 1377.2,370 1377.5,377 1377.8,376 1378.1,373 1378.4,376 1378.7,378 1379.0,375 1379.3,386 1379.6,385 1379.9,383 1380.2,381 1380.5,383 1380.8,377 1381.1,380 1381.4,384 1381.7,379 1382.0,393 1382.3,374 1382.6,377 1382.9,374 1383.2,387 1383.5,387 1383.8,388 1384.1,382 1384.4,387 1384.7,394 1385.0,382 1385.3,388 1385.6,384 1385.9,375 1386.2,375 1386.5,383 1386.8,374 1387.1,379 1387.4,378 1387.7,396 1388.0,371 1388.3,372 1388.6,385 1388.9,386 1389.2,376 1389.5,388 1389.8,372 1390.1,380 1390.4,373 1390.7,379 1391.0,384 1391.3,386 1391.6,375 1391.9,371 1392.2,378 1392.5,383 1392.8,372 1393.1,375 1393.4,378 1393.7,383 1394.0,389 1394.3,390 1394.6,383 1394.9,385 1395.2,387 1395.5,387 1395.8,368 1396.1,384 1396.4,374 1396.7,383 1397.0,371 1397.3,387 1397.6,382 1397.9,388 1398.2,377 1398.5,392 1398.8,385 1399.1,378 1399.4,381 1399.7,379 1400.0,378 1400.3,377 1400.6,371 1400.9,381 1401.2,370 1401.5,374 1401.8,377 1402.1,388 1402.4,381 1402.7,385 1403.0,387 1403.3,387 1403.6,384 1403.9,386 1404.2,381 1404.5,381 1404.8,394 1405.1,385 1405.4,387 1405.7,389 1406.0,378 1406.3,377 1406.6,386 1406.9,396 1407.2,378 1407.5,370 1407.8,381 1408.1,382 1408.4,374 1408.7,384 1409.0,390 1409.3,377 1409.6,391 1409.9,384 1410.2,387 1410.5,386 1410.8,390 1411.1,383 1411.4,366 1411.7,382 1412.0,377 1412.3,382 1412.6,378 1412.9,378 1413.2,385 1413.5,393 1413.8,378 1414.1,384 1414.4,390"/>
<path fill="#50b34a" d="M292.0 475.2H296.6V526.0H292.0zM483.0 475.2H487.6V526.0H483.0zM503.8 475.2H508.4V526.0H503.8zM527.0 475.2H531.6V526.0H527.0zM620.9 475.2H625.5V526.0H620.9zM628.2 475.2H632.8V526.0H628.2zM646.1 475.2H650.7V526.0H646.1zM723.1 475.2H730.0V526.0H723.1zM775.0 475.2H780.8V526.0H775.0zM810.1 475.2H814.7V526.0H810.1zM816.2 475.2H820.9V526.0H816.2zM863.2 475.2H867.8V526.0H863.2zM907.2 475.2H912.1V526.0H907.2zM921.0 475.2H925.8V526.0H921.0zM955.1 475.2H959.9V526.0H955.1zM967.0 475.2H971.9V526.0H967.0zM976.1 475.2H986.0V526.0H976.1zM1005.2 475.2H1010.0V526.0H1005.2zM1031.1 475.2H1035.9V526.0H1031.1zM1043.0 475.2H1047.9V526.0H1043.0zM1055.0 475.2H1059.9V526.0H1055.0zM1079.1 475.2H1083.9V526.0H1079.1zM1090.0 475.2H1099.0V526.0H1090.0zM1161.2 475.2H1165.8V526.0H1161.2zM1190.1 475.2H1196.9V526.0H1190.1zM1205.0 475.2H1209.8V526.0H1205.0zM1224.1 475.2H1228.9V526.0H1224.1zM1244.0 475.2H1248.9V526.0H1244.0zM1255.0 475.2H1266.9V526.0H1255.0zM1271.0 475.2H1279.0V526.0H1271.0zM1282.1 475.2H1286.9V526.0H1282.1zM1288.2 475.2H1297.1V526.0H1288.2zM1334.1 475.2H1338.9V526.0H1334.1zM1366.1 475.2H1370.9V526.0H1366.1zM1400.1 475.2H1404.7V526.0H1400.1zM1406.2 475.2H1410.9V526.0H1406.2z"/>
<path fill="#304d9e" d="M228.0 581.1H233.0V634.8H228.0zM249.1 581.1H253.9V634.8H249.1zM281.1 581.1H285.9V634.8H281.1zM325.1 581.1H329.9V634.8H325.1zM373.9 581.1H378.9V634.8H373.9zM389.0 581.1H393.7V634.8H389.0zM417.0 581.1H421.9V634.8H417.0zM443.2 581.1H452.0V634.8H443.2zM466.1 581.1H470.9V634.8H466.1zM473.1 581.1H477.9V634.8H473.1zM480.2 581.1H485.0V634.8H480.2zM515.0 581.1H519.9V634.8H515.0zM523.0 581.1H527.8V634.8H523.0zM555.9 581.1H560.7V634.8H555.9zM578.0 581.1H582.7V634.8H578.0zM584.3 581.1H589.0V634.8H584.3zM615.0 581.1H619.9V634.8H615.0zM638.2 581.1H647.9V634.8H638.2zM669.0 581.1H679.0V634.8H669.0zM688.1 581.1H692.8V634.8H688.1zM731.2 581.1H735.9V634.8H731.2zM770.0 581.1H774.9V634.8H770.0zM797.0 581.1H801.9V634.8H797.0z"/>
<path fill="#a3b027" d="M380.1 713.4H385.0V750.8H380.1zM397.0 713.4H401.9V750.8H397.0zM418.9 713.4H423.8V750.8H418.9zM518.1 713.4H522.9V750.8H518.1zM602.2 713.4H606.9V750.8H602.2zM647.1 713.4H652.0V750.8H647.1zM686.1 713.4H690.9V750.8H686.1zM696.0 713.4H700.9V750.8H696.0zM708.0 713.4H712.9V750.8H708.0zM723.0 713.4H727.9V750.8H723.0zM770.2 713.4H775.0V750.8H770.2zM795.0 713.4H799.8V750.8H795.0zM865.0 713.4H869.9V750.8H865.0zM895.1 713.4H900.0V750.8H895.1zM912.0 713.4H916.9V750.8H912.0zM925.0 713.4H929.9V750.8H925.0zM956.1 713.4H961.0V750.8H956.1zM964.0 713.4H968.9V750.8H964.0zM985.0 713.4H989.9V750.8H985.0zM1015.1 713.4H1019.8V750.8H1015.1zM1031.1 713.4H1035.8V750.8H1031.1zM1045.1 713.4H1049.8V750.8H1045.1zM1076.2 713.4H1083.8V750.8H1076.2zM1127.1 713.4H1137.0V750.8H1127.1zM1153.0 713.4H1159.9V750.8H1153.0zM1181.0 713.4H1185.8V750.8H1181.0zM1234.2 713.4H1246.1V750.8H1234.2zM1249.1 713.4H1253.8V750.8H1249.1zM1260.1 713.4H1265.0V750.8H1260.1zM1286.0 713.4H1297.9V750.8H1286.0zM1324.1 713.4H1329.0V750.8H1324.1zM1365.1 713.4H1369.8V750.8H1365.1zM1390.1 713.4H1395.0V750.8H1390.1zM1404.1 713.4H1409.0V750.8H1404.1z"/>
<path fill="#7454a8" d="M239.2 821.9H244.0V854.9H239.2zM324.0 821.9H328.8V854.9H324.0zM332.0 821.9H336.9V854.9H332.0zM363.0 821.9H367.8V854.9H363.0zM422.1 821.9H426.7V854.9H422.1zM432.0 821.9H436.8V854.9H432.0zM440.1 821.9H444.9V854.9H440.1zM450.0 821.9H459.7V854.9H450.0zM467.0 821.9H472.0V854.9H467.0zM485.1 821.9H494.9V854.9H485.1zM497.0 821.9H501.9V854.9H497.0zM512.0 821.9H516.9V854.9H512.0zM521.0 821.9H537.9V854.9H521.0zM544.0 821.9H548.7V854.9H544.0zM550.0 821.9H559.9V854.9H550.0zM568.0 821.9H573.0V854.9H568.0zM586.2 821.9H596.0V854.9H586.2zM605.0 821.9H609.9V854.9H605.0zM628.0 821.9H637.9V854.9H628.0zM640.0 821.9H655.9V854.9H640.0zM666.2 821.9H671.0V854.9H666.2zM673.0 821.9H686.7V854.9H673.0zM688.1 821.9H692.8V854.9H688.1zM697.0 821.9H701.9V854.9H697.0zM703.0 821.9H712.0V854.9H703.0zM721.2 821.9H725.9V854.9H721.2zM729.2 821.9H733.9V854.9H729.2zM736.0 821.9H740.8V854.9H736.0zM743.0 821.9H751.9V854.9H743.0zM753.0 821.9H758.0V854.9H753.0zM760.0 821.9H770.9V854.9H760.0zM775.1 821.9H802.0V854.9H775.1zM814.1 821.9H818.9V854.9H814.1zM828.1 821.9H832.9V854.9H828.1zM834.0 821.9H838.9V854.9H834.0zM844.1 821.9H856.8V854.9H844.1zM861.0 821.9H865.9V854.9H861.0zM868.1 821.9H886.0V854.9H868.1zM897.0 821.9H935.9V854.9H897.0zM943.0 821.9H951.9V854.9H943.0zM953.1 821.9H962.9V854.9H953.1zM972.1 821.9H980.1V854.9H972.1zM986.0 821.9H1000.9V854.9H986.0zM1003.9 821.9H1008.9V854.9H1003.9zM1016.0 821.9H1023.9V854.9H1016.0zM1028.1 821.9H1032.9V854.9H1028.1zM1041.1 821.9H1049.0V854.9H1041.1zM1053.0 821.9H1059.9V854.9H1053.0zM1061.0 821.9H1075.9V854.9H1061.0zM1080.1 821.9H1089.8V854.9H1080.1zM1093.1 821.9H1098.0V854.9H1093.1zM1100.0 821.9H1104.8V854.9H1100.0zM1107.0 821.9H1111.8V854.9H1107.0zM1115.0 821.9H1123.9V854.9H1115.0zM1125.0 821.9H1129.8V854.9H1125.0zM1132.0 821.9H1150.8V854.9H1132.0zM1154.1 821.9H1161.0V854.9H1154.1zM1164.0 821.9H1169.0V854.9H1164.0zM1183.0 821.9H1187.9V854.9H1183.0z"/>
<path fill="none" stroke="#231f20" stroke-width="2.8" d="M233.5 0V955M1414.6 0V955M232 1.4H1416"/>
<path fill="none" stroke="#231f20" stroke-width="2.9" d="M232 522.5H1416"/>
<path fill="none" stroke="#231f20" stroke-width="2.9" d="M232 632.3H1416"/>
<path fill="none" stroke="#231f20" stroke-width="2.9" d="M232 747.4H1416"/>
<path fill="none" stroke="#231f20" stroke-width="2.9" d="M232 851.2H1416"/>
<path fill="none" stroke="#231f20" stroke-width="2.9" d="M232 953.5H1416"/>
<path fill="none" stroke="#231f20" stroke-width="2.6" d="M380.4 935.3V953M528.3 935.3V953M676.4 935.3V953M823.7 935.3V953M971.4 935.3V953M1119.5 935.3V953M1266.6 935.3V953"/>
<path fill="#f26c28" d="M345.2 923.2H350.1V957.0H345.2zM395.2 923.2H399.8V957.0H395.2zM470.1 923.2H475.0V957.0H470.1zM571.1 923.2H576.0V957.0H571.1zM594.1 923.2H599.0V957.0H594.1zM605.1 923.2H609.9V957.0H605.1zM613.0 923.2H617.9V957.0H613.0zM622.0 923.2H626.8V957.0H622.0zM656.0 923.2H660.8V957.0H656.0zM671.0 923.2H676.1V957.0H671.0zM688.0 923.2H692.8V957.0H688.0zM716.9 923.2H721.9V957.0H716.9zM745.0 923.2H749.9V957.0H745.0zM778.0 923.2H782.8V957.0H778.0zM788.0 923.2H792.8V957.0H788.0zM815.0 923.2H819.9V957.0H815.0zM826.0 923.2H830.8V957.0H826.0zM840.1 923.2H844.8V957.0H840.1zM865.0 923.2H869.8V957.0H865.0zM879.1 923.2H883.9V957.0H879.1zM896.1 923.2H900.9V957.0H896.1zM926.0 923.2H930.7V957.0H926.0zM949.9 923.2H956.7V957.0H949.9zM977.0 923.2H981.9V957.0H977.0zM986.1 923.2H990.8V957.0H986.1zM1007.2 923.2H1015.9V957.0H1007.2zM1023.0 923.2H1027.8V957.0H1023.0zM1031.1 923.2H1035.9V957.0H1031.1zM1049.1 923.2H1053.9V957.0H1049.1zM1066.1 923.2H1070.9V957.0H1066.1zM1075.0 923.2H1080.0V957.0H1075.0zM1082.0 923.2H1091.9V957.0H1082.0zM1097.0 923.2H1102.9V957.0H1097.0zM1106.1 923.2H1112.0V957.0H1106.1zM1130.0 923.2H1139.9V957.0H1130.0zM1142.0 923.2H1146.9V957.0H1142.0zM1160.0 923.2H1164.7V957.0H1160.0zM1183.0 923.2H1191.7V957.0H1183.0zM1198.0 923.2H1202.8V957.0H1198.0zM1206.1 923.2H1216.8V957.0H1206.1zM1222.1 923.2H1226.9V957.0H1222.1zM1228.9 923.2H1233.8V957.0H1228.9zM1235.1 923.2H1239.8V957.0H1235.1zM1242.9 923.2H1247.8V957.0H1242.9zM1254.2 923.2H1259.8V957.0H1254.2zM1280.1 923.2H1284.8V957.0H1280.1zM1301.1 923.2H1305.9V957.0H1301.1zM1312.0 923.2H1316.8V957.0H1312.0zM1318.1 923.2H1326.9V957.0H1318.1zM1346.0 923.2H1358.9V957.0H1346.0zM1365.2 923.2H1370.0V957.0H1365.2zM1395.1 923.2H1399.9V957.0H1395.1zM1403.1 923.2H1407.9V957.0H1403.1zM1411.1 923.2H1416.0V957.0H1411.1z"/>
<g opacity="0.999"><text id="lab0" class="lab" x="246.3" y="464.0" letter-spacing="0.145">β-FeOOH #PDF:96-101-1027</text>
<text id="lab1" class="lab" x="247.0" y="567.7" letter-spacing="0.100">H<tspan class="sb" dy="7.6">2</tspan><tspan dy="-7.6">Ti</tspan><tspan class="sb" dy="7.6">3</tspan><tspan dy="-7.6">O</tspan><tspan class="sb" dy="7.6">7</tspan><tspan dy="-7.6"> #PDF:47-0561</tspan></text>
<text id="lab2" class="lab" x="248.0" y="696.3" letter-spacing="0.110">AlPO<tspan class="sb" dy="7.6">4</tspan><tspan dy="-7.6"> #PDF:96-201-2012</tspan></text>
<text id="lab3" class="lab" x="248.0" y="799.6" letter-spacing="0.000">V(PO<tspan class="sb" dy="7.6">3</tspan><tspan dy="-7.6">)</tspan><tspan class="sb" dy="7.6">3</tspan><tspan dy="-7.6"> #PDF:50-0381</tspan></text>
<text id="lab4" class="lab" x="247.0" y="915.3" letter-spacing="0.140">α-FeOOH #PDF:96-101-1088</text>
<text transform="translate(183.4 575.8) rotate(-90)" font-size="54.5" letter-spacing="1.6" fill="#231f20" style="font-family:'Liberation Serif','Noto Serif CJK SC',serif">强度</text>
<text class="tk" x="232.0" y="1017.0" text-anchor="middle">10</text>
<text class="tk" x="378.0" y="1017.0" text-anchor="middle">20</text>
<text class="tk" x="526.0" y="1017.0" text-anchor="middle">30</text>
<text class="tk" x="673.6" y="1017.0" text-anchor="middle">40</text>
<text class="tk" x="821.6" y="1017.0" text-anchor="middle">50</text>
<text class="tk" x="968.2" y="1017.0" text-anchor="middle">60</text>
<text class="tk" x="1116.7" y="1017.0" text-anchor="middle">70</text>
<text class="tk" x="1264.2" y="1017.0" text-anchor="middle">80</text>
<text class="tk" x="1412.2" y="1017.0" text-anchor="middle">90</text>
<text class="ax" x="758.6" y="1091" letter-spacing="0.45">2<tspan font-style="italic">θ</tspan>/(°)</text></g>
</svg></body></html>
